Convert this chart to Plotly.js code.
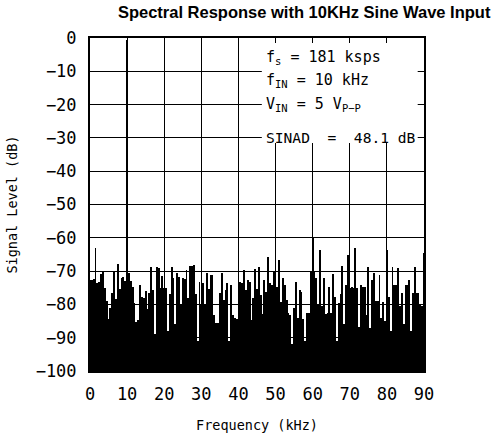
<!DOCTYPE html>
<html>
<head>
<meta charset="utf-8">
<script src="https://cdn.plot.ly/plotly-3.0.1.min.js"></script>
<style>
  html, body { margin: 0; padding: 0; background: #fff; }
  #chart { width: 497px; height: 439px; }
</style>
</head>
<body>
<div id="chart"></div>
<script>
// FFT bin spacing (kHz) — bins run from 0 to 90 kHz
const binStepKHz = 0.5;

// Signal level (dB) per bin (10 bins = 5 kHz per row)
const levelDb = [
  -72.7,-72.7,-72.5,-63.2,-73.5,-73.2,-71,-70,-75,-79,
  -84.5,-81,-76.5,-70.2,-78.5,-68,-75.5,-72.2,-71.7,-73,
  -0.5,-70.7,-73,-74.7,-79.5,-85.2,-84.7,-74.2,-77.7,-78,
  -76,-81.5,-76.7,-68.7,-75.7,-89,-68.7,-69,-75.2,-71.4,
  -75,-75.2,-88,-77,-68.7,-72.2,-86,-70.7,-71.7,-80,
  -72.2,-72.5,-69.7,-78,-68.4,-68.5,-68.2,-77,-91,-73.2,
  -80,-73.7,-80,-70.7,-75.5,-71.2,-71.2,-83.2,-85.7,-85.5,
  -76.7,-70.7,-78.7,-75.7,-73.5,-91,-74.2,-83.2,-84,-84.5,
  -61.5,-73.2,-73.7,-69.7,-75.7,-72.7,-73.2,-84.7,-78,-69.5,
  -75.3,-68.9,-77.2,-83,-72.7,-76.2,-65.7,-73.7,-74.2,-70.2,
  -61,-74.7,-66.7,-79.2,-72.2,-74.2,-78.7,-82.5,-83.2,-92,
  -81,-73.2,-84,-75.7,-76.2,-84.5,-91,-82.5,-82.5,-70.2,
  -60,-70.2,-72,-80,-63.7,-80.5,-72.2,-83,-82.5,-74.7,
  -82.7,-71,-77.7,-91,-79.7,-77,-68.4,-86,-74.2,-65.2,
  -75,-74.7,-75.2,-63.2,-75.2,-86.7,-74.2,-74.7,-74.7,-83.2,
  -68.7,-87.2,-72.7,-70.7,-79,-79,-71.2,-84.2,-79.2,-85,
  -63.7,-77.7,-88,-68.7,-74.2,-74.2,-69.2,-80.5,-76.7,-86,
  -74.2,-74.2,-72.7,-88,-76.7,-68.7,-76.7,-76.7,-80,-80.5,
  -64.7
];

const xTicks = [0, 10, 20, 30, 40, 50, 60, 70, 80, 90];
const yTicks = [0, -10, -20, -30, -40, -50, -60, -70, -80, -90, -100];
const floorDb = -100;

const infoLines = [
  'f<sub>s</sub> = 181 ksps',
  'f<sub>IN</sub> = 10 kHz',
  'V<sub>IN</sub> = 5 V<sub>P\u2212P</sub>',
  'SINAD  =  48.1 dB'
];
const infoLineDb = [-5.9, -12.8, -19.9, -29.8];
const infoLineSize = [15, 15, 15, 14.6];

const freqKHz = levelDb.map((_, i) => i * binStepKHz);

const trace = {
  type: 'bar',
  x: freqKHz,
  y: levelDb.map(v => v - floorDb),
  base: floorDb,
  width: binStepKHz,
  marker: { color: '#000', line: { width: 0 } },
  hoverinfo: 'skip'
};

const titleFont = 'Liberation Sans, Arial, sans-serif';
const mono = 'DejaVu Sans Mono, monospace';

const layout = {
  width: 497, height: 439,
  margin: { l: 89.5, r: 72.5, t: 37.5, b: 68, pad: 0 },
  paper_bgcolor: '#fff', plot_bgcolor: '#fff',
  showlegend: false,
  bargap: 0,
  title: {
    text: '<b>Spectral Response with 10KHz Sine Wave Input</b>',
    font: { family: titleFont, size: 16.5, color: '#000' },
    x: 0.612, xanchor: 'center', y: 0.972, yanchor: 'middle'
  },
  xaxis: {
    range: [0, 90], tickvals: xTicks, ticktext: xTicks.map(String),
    showgrid: true, gridcolor: '#000', gridwidth: 1,
    zeroline: false, showline: true, mirror: true, linecolor: '#000', linewidth: 2,
    ticks: '', ticklabelstandoff: 7,
    tickfont: { family: mono, size: 17, color: '#000' },
    title: { text: 'Frequency (kHz)', font: { family: mono, size: 13.5, color: '#000' }, standoff: 17 },
    fixedrange: true
  },
  yaxis: {
    range: [-100, 0], tickvals: yTicks,
    showgrid: true, gridcolor: '#000', gridwidth: 1,
    zeroline: false, showline: true, mirror: true, linecolor: '#000', linewidth: 2,
    ticks: '', ticklabelstandoff: 8,
    tickfont: { family: mono, size: 17, color: '#000' },
    title: { text: 'Signal Level (dB)', font: { family: mono, size: 13.5, color: '#000' }, standoff: 15 },
    fixedrange: true
  },
  shapes: [{
    type: 'rect', xref: 'x', yref: 'y', layer: 'above',
    x0: 46.3, x1: 88.3, y0: -31.5, y1: -1.5,
    fillcolor: '#fff', line: { width: 0 }
  }],
  annotations: infoLines.map((t, i) => ({
    text: t, xref: 'x', yref: 'y', x: 47.0, y: infoLineDb[i],
    xanchor: 'left', yanchor: 'middle', showarrow: false,
    font: { family: mono, size: infoLineSize[i], color: '#000' }
  }))
};

Plotly.newPlot('chart', [trace], layout, { staticPlot: true, displayModeBar: false });
</script>
</body>
</html>
